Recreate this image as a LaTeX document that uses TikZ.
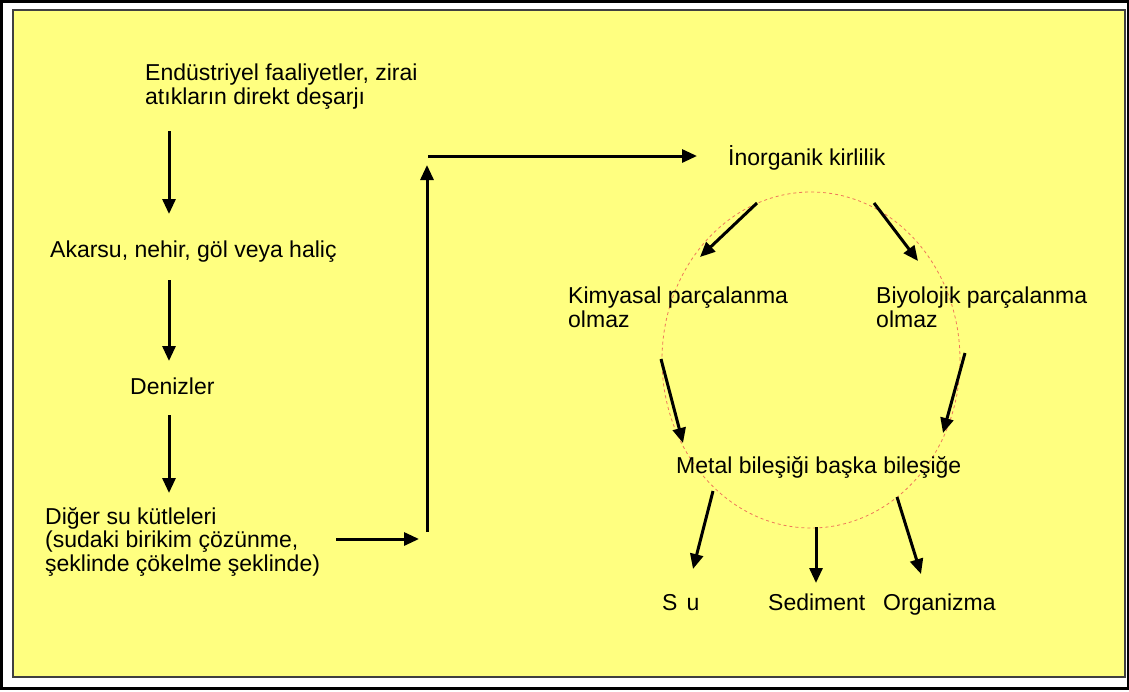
\documentclass[tikz,border=0pt]{standalone}
\usepackage{fontspec}
\setmainfont{Liberation Sans}
\usetikzlibrary{arrows.meta}
\definecolor{bgyellow}{RGB}{255,255,128}
\definecolor{ringred}{RGB}{238,120,90}
\tikzset{lbl/.style={anchor=base west,align=left,inner sep=0pt,font=\fontsize{23}{23.5}\selectfont},
  arr/.style={line width=3pt,-{Triangle[length=15pt,width=13pt]}},
  ring/.style={draw=ringred,dash pattern=on 3pt off 3pt,line width=0.8pt}}

\begin{document}
\begin{tikzpicture}[x=1pt,y=-1pt]
  \useasboundingbox (0,0) rectangle (1129,691);
  \draw[line width=3pt] (1.5,1.5) rectangle (1128,688.5);
  \draw[fill=bgyellow,draw=black!75,line width=2pt] (13,10) rectangle (1125,677);
  % left column (base = last line)
  \node[lbl] (src) at (145,104) {Endüstriyel faaliyetler, zirai\\atıkların direkt deşarjı};
  \node[lbl] (river) at (50,257) {Akarsu, nehir, göl veya haliç};
  \node[lbl] (sea) at (130,394) {Denizler};
  \node[lbl] (other) at (45,571) {Diğer su kütleleri\\(sudaki birikim çözünme,\\şeklinde çökelme şeklinde)};
  % right part
  \draw[ring] (811,360) ellipse [x radius=149pt, y radius=168pt];
  \node[lbl] (inorg) at (728,165) {İnorganik kirlilik};
  \node[lbl] (chem) at (568,327) {Kimyasal parçalanma\\olmaz};
  \node[lbl] (bio) at (876,327) {Biyolojik parçalanma\\olmaz};
  \node[lbl] (metal) at (676,473) {Metal bileşiği başka bileşiğe};
  \node[lbl] (water) at (662,610) {S\hspace{9pt}u};
  \node[lbl] (sed) at (768,610) {Sediment};
  \node[lbl] (org) at (883,610) {Organizma};
  % tails and heads of the arrows
  \coordinate (t1) at (169,131); \coordinate (h1) at (169,214);
  \coordinate (t2) at (169,280); \coordinate (h2) at (169,361);
  \coordinate (t3) at (169,415); \coordinate (h3) at (169,493);
  \coordinate (t4) at (336,539); \coordinate (h4) at (419,539);
  \coordinate (t5) at (427,532); \coordinate (h5) at (427,165);
  \coordinate (t6) at (428,156); \coordinate (h6) at (697,156);
  \coordinate (t7) at (757,203); \coordinate (h7) at (700,257);
  \coordinate (t8) at (874,203); \coordinate (h8) at (918,261);
  \coordinate (t9) at (661,359); \coordinate (h9) at (683,443);
  \coordinate (t10) at (965,353); \coordinate (h10) at (943,433);
  \coordinate (t11) at (713,491); \coordinate (h11) at (693,569);
  \coordinate (t12) at (816,527); \coordinate (h12) at (816,583);
  \coordinate (t13) at (897,497); \coordinate (h13) at (921,574);
  \foreach \i in {1,...,13}
    \draw[arr] (t\i) -- (h\i);
\end{tikzpicture}
\end{document}
